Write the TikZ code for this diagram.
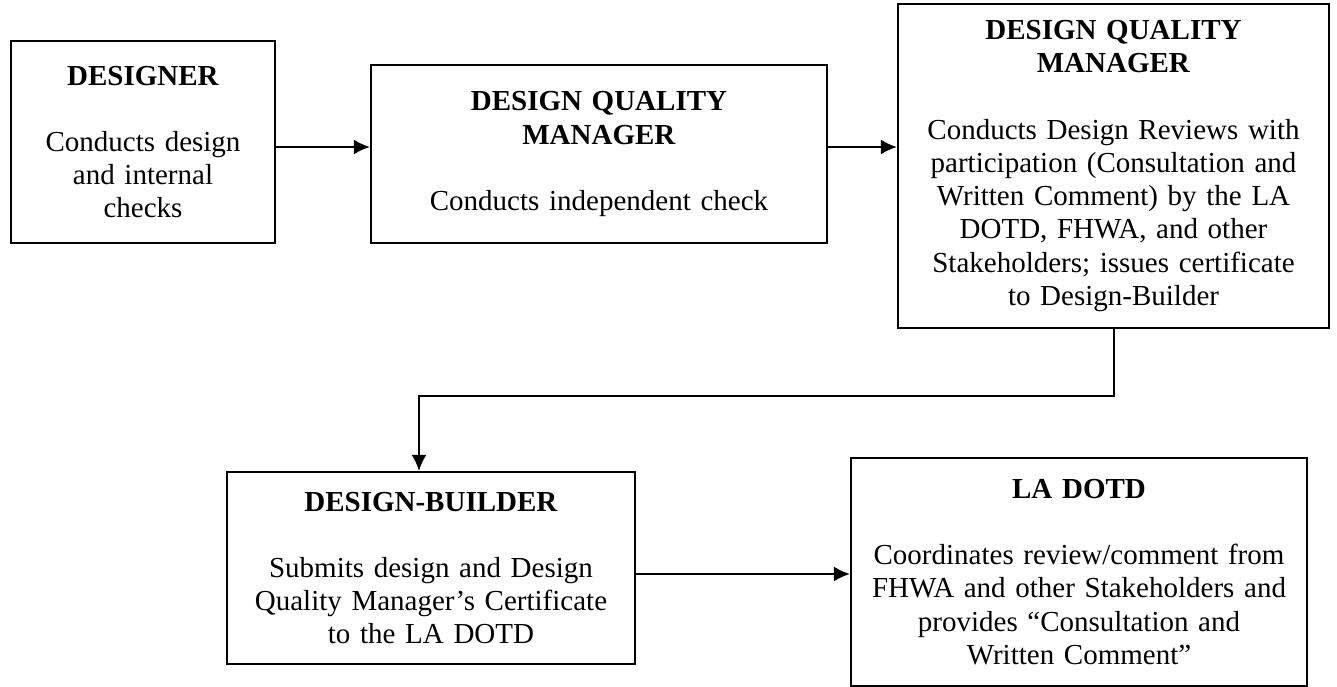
\documentclass[tikz,border=0pt]{standalone}
\usepackage{fontspec}
\setmainfont{Liberation Serif}
\usepackage{tikz}
\usetikzlibrary{arrows.meta,positioning}

\begin{document}
\begin{tikzpicture}[x=1pt,y=-1pt,->,>={Latex[length=16pt,width=15pt]},line width=2pt,
  box/.style={draw,rectangle,line width=2.2pt,align=center,inner sep=0pt,
    font=\fontsize{29}{33.3}\selectfont}]
  \useasboundingbox (0,0) rectangle (1337,687);
  \node[box,minimum width=264pt,minimum height=202pt,text width=250pt] (designer) at (143,142)
    {\textbf{DESIGNER}\\[33pt]Conducts design\\and internal\\checks};
  \node[box,minimum width=456pt,minimum height=178pt,text width=440pt] (dqmA) at (599,154)
    {\textbf{DESIGN QUALITY}\\\textbf{MANAGER}\\[33pt]Conducts independent check};
  \node[box,minimum width=431pt,minimum height=324pt,text width=420pt] (dqmB) at (1113.5,166)
    {\textbf{DESIGN QUALITY}\\\textbf{MANAGER}\\[33pt]Conducts Design Reviews with\\participation (Consultation and\\Written Comment) by the LA\\DOTD, FHWA, and other\\Stakeholders; issues certificate\\to Design-Builder};
  \node[box,minimum width=408pt,minimum height=192pt,text width=396pt] (builder) at (431,568)
    {\textbf{DESIGN-BUILDER}\\[33pt]Submits design and Design\\Quality Manager’s Certificate\\to the LA DOTD};
  \node[box,minimum width=456pt,minimum height=228pt,text width=446pt] (ladotd) at (1079,572)
    {\textbf{LA DOTD}\\[33pt]Coordinates review/comment from\\FHWA and other Stakeholders and\\provides “Consultation and\\Written Comment”};
  \coordinate (turn) at (419,396);

  \draw ([yshift=-5pt]designer.east) -- ([yshift=-5pt]designer.east -| dqmA.west);
  \draw ([yshift=7pt]dqmA.east) -- ([yshift=7pt]dqmA.east -| dqmB.west);
  \draw[->] (dqmB.south) |- (turn) -- (turn |- builder.north);
  \draw ([yshift=-6pt]builder.east) -- ([yshift=-6pt]builder.east -| ladotd.west);
\end{tikzpicture}
\end{document}
